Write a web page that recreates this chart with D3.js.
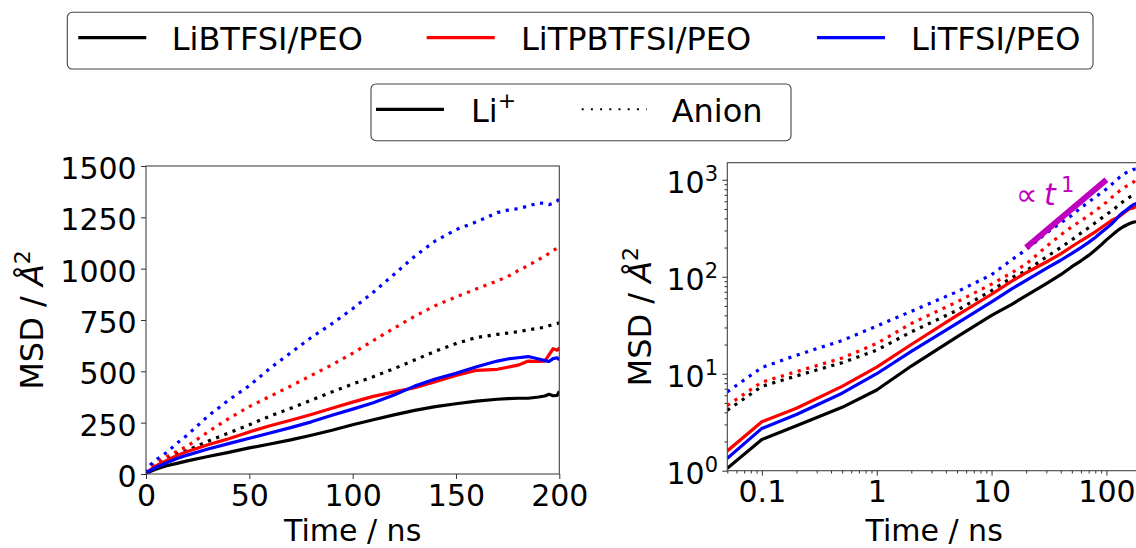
<!DOCTYPE html>
<html><head><meta charset="utf-8">
<script src="https://cdn.jsdelivr.net/npm/d3@7"></script>
<style>body{margin:0;background:#fff} text{font-family:"DejaVu Sans",sans-serif}</style>
</head><body><svg id="c" width="1136" height="548"></svg>
<script>
// ---------- data ----------
const time = [0.05,0.1,0.2,0.5,1,2,5,10,15,20,30,40,50,60,70,80,90,100,110,120,130,140,150,160,170,175,180,185,190,193,195,197,199,200];
const liBTFSI_Li    = [1.06,2.1,2.9,4.5,6.8,12,24,40,52,64,85,105,127,146,166,189,213,240,264,288,310,328,342,355,364,367,369,369,375,380,388,381,383,403];
const liTPBTFSI_Li  = [1.6,3.2,4.4,7.4,11.7,20,40,66,90,110,142,172,205,235,262,290,320,350,378,400,420,450,480,505,510,520,530,550,548,550,580,610,603,615];
const liTFSI_Li     = [1.34,2.73,3.8,6.3,10,17,33,55,75,92,122,148,174,200,226,254,286,316,347,385,428,463,490,522,550,560,566,572,560,552,548,562,566,556];
const liBTFSI_anion   = [4.2,7.4,9.5,13,17.5,27,45,72,98,115,160,200,240,282,320,360,400,438,474,513,555,598,635,665,680,686,693,702,710,715,722,728,733,737];
const liTPBTFSI_anion = [4.7,8.2,10.5,14.5,20.5,33,55,84,110,135,205,270,328,378,428,480,532,588,650,710,768,820,862,902,940,962,990,1015,1045,1060,1075,1088,1100,1104];
const liTFSI_anion    = [6.5,11.6,15.5,22,31,44,70,105,150,190,282,360,430,515,590,665,732,805,885,972,1060,1135,1190,1228,1273,1285,1292,1305,1320,1318,1312,1318,1330,1342];
const systems = ["LiBTFSI/PEO","LiTPBTFSI/PEO","LiTFSI/PEO"];
const species = ["Li","Anion"];
const xTicksLin = [0,50,100,150,200];
const yTicksLin = [0,250,500,750,1000,1250,1500];
const xTicksLog = [0.1,1,10,100];
const xTickLabelsLog = ["0.1","1","10","100"];
const yTicksLog = [1,10,100,1000];
const yTickExpLog = ["0","1","2","3"];
const guideT = [20,100];
const guideV = [200,1000];

// ---------- setup ----------
const svg = d3.select("#c");
const colors = {"LiBTFSI/PEO":"#000000","LiTPBTFSI/PEO":"#ff0000","LiTFSI/PEO":"#0000ff"};
const seriesList = [
  {sys:"LiBTFSI/PEO", sp:"Li", v:liBTFSI_Li},
  {sys:"LiBTFSI/PEO", sp:"Anion", v:liBTFSI_anion},
  {sys:"LiTPBTFSI/PEO", sp:"Li", v:liTPBTFSI_Li},
  {sys:"LiTPBTFSI/PEO", sp:"Anion", v:liTPBTFSI_anion},
  {sys:"LiTFSI/PEO", sp:"Li", v:liTFSI_Li},
  {sys:"LiTFSI/PEO", sp:"Anion", v:liTFSI_anion}
];

const xL = d3.scaleLinear().domain([0,200]).range([146,559.3]);
const yL = d3.scaleLinear().domain([0,1500]).range([474,166]);
const xR = d3.scaleLog().domain([0.05,200]).range([727.3,1141]);
const yR = d3.scaleLog().domain([1,1500]).range([470.7,162.7]);

const defs = svg.append("defs");
defs.append("clipPath").attr("id","clipL").append("rect")
  .attr("x",xL.range()[0]).attr("y",yL.range()[1]).attr("width",xL.range()[1]-xL.range()[0]).attr("height",yL.range()[0]-yL.range()[1]);
defs.append("clipPath").attr("id","clipR").append("rect")
  .attr("x",xR.range()[0]).attr("y",yR.range()[1]).attr("width",xR.range()[1]-xR.range()[0]).attr("height",yR.range()[0]-yR.range()[1]);

function styleAxis(g){
  g.select(".domain").remove();
  g.selectAll(".tick line").attr("stroke","#333").attr("stroke-width",1);
  g.selectAll(".tick text").attr("font-size",30).attr("fill","#000").attr("font-family","DejaVu Sans");
}

function drawPanel(x, y, clipId){
  const gLines = svg.append("g").attr("clip-path",`url(#${clipId})`);
  const line = d3.line().x((d,i)=>x(time[i])).y(d=>y(d));
  seriesList.forEach(s=>{
    gLines.append("path").datum(s.v)
      .attr("d", line)
      .attr("fill","none")
      .attr("stroke", colors[s.sys])
      .attr("stroke-width", 3.2)
      .attr("stroke-linejoin","round")
      .attr("stroke-dasharray", s.sp==="Anion" ? "3.2 5.6" : null);
  });
  svg.append("rect")
    .attr("x",x.range()[0]).attr("y",y.range()[1])
    .attr("width",x.range()[1]-x.range()[0]).attr("height",y.range()[0]-y.range()[1])
    .attr("fill","none").attr("stroke","#444").attr("stroke-width",1.1);
}

// ---------- left panel ----------
drawPanel(xL, yL, "clipL");
const gxL = svg.append("g").attr("transform",`translate(0,${yL.range()[0]})`)
  .call(d3.axisBottom(xL).tickValues(xTicksLin).tickSize(5).tickPadding(5.2).tickFormat(d3.format("d")));
styleAxis(gxL);
const gyL = svg.append("g").attr("transform",`translate(${xL.range()[0]},0)`)
  .call(d3.axisLeft(yL).tickValues(yTicksLin).tickSize(5).tickPadding(4.3).tickFormat(d3.format("d")));
styleAxis(gyL);
gyL.selectAll(".tick text").attr("dy","0.42em");

// ---------- right panel ----------
drawPanel(xR, yR, "clipR");
const minorX = [];
[-2,-1,0,1,2].forEach(e=>{for(let k=2;k<=9;k++){const v=k*Math.pow(10,e); if(v>=0.05&&v<=200) minorX.push(v);} });
const minorY = [];
[0,1,2,3].forEach(e=>{for(let k=2;k<=9;k++){const v=k*Math.pow(10,e); if(v>=1&&v<=1500) minorY.push(v);} });

const gxRm = svg.append("g").attr("transform",`translate(0,${yR.range()[0]})`)
  .call(d3.axisBottom(xR).tickValues(minorX).tickSize(2.8).tickFormat(""));
styleAxis(gxRm);
const gxR = svg.append("g").attr("transform",`translate(0,${yR.range()[0]})`)
  .call(d3.axisBottom(xR).tickValues(xTicksLog).tickSize(5).tickPadding(5.2).tickFormat((d,i)=>xTickLabelsLog[i]));
styleAxis(gxR);
const gyRm = svg.append("g").attr("transform",`translate(${xR.range()[0]},0)`)
  .call(d3.axisLeft(yR).tickValues(minorY).tickSize(2.8).tickFormat(""));
styleAxis(gyRm);
const gyR = svg.append("g").attr("transform",`translate(${xR.range()[0]},0)`)
  .call(d3.axisLeft(yR).tickValues(yTicksLog).tickSize(5).tickPadding(4.3).tickFormat(""));
styleAxis(gyR);
gyR.selectAll(".tick text").each(function(d,i){
  const t = d3.select(this);
  t.text("10").attr("dy","0.42em");
  t.append("tspan").attr("font-size",21).attr("dy",-12).text(yTickExpLog[i]);
});

// guide line ∝ t^1
svg.append("path").datum(guideT.map((t,i)=>[t,guideV[i]]))
  .attr("d", d3.line().x(d=>xR(d[0])).y(d=>yR(d[1])))
  .attr("stroke","#bf00bf").attr("stroke-width",6).attr("fill","none");
const gt = svg.append("text").attr("x",1016).attr("y",205).attr("font-size",30).attr("fill","#bf00bf");
gt.append("tspan").text("\u221D");
gt.append("tspan").attr("x",1044).attr("font-style","italic").text("t");
gt.append("tspan").attr("x",1061).attr("dy",-13).attr("font-size",21).text("1");

// axis titles
function yTitle(xb, yc){
  const t = svg.append("text").attr("transform",`translate(${xb},${yc}) rotate(-90)`)
    .attr("text-anchor","middle").attr("font-size",32).attr("fill","#000");
  t.append("tspan").text("MSD / ");
  t.append("tspan").attr("font-style","italic").text("\u00C5");
  t.append("tspan").attr("font-size",22).attr("dy",-13).text("2");
}
yTitle(43, (yL.range()[0]+yL.range()[1])/2);
yTitle(651, (yR.range()[0]+yR.range()[1])/2);
svg.append("text").attr("x",(xL.range()[0]+xL.range()[1])/2).attr("y",540.5)
  .attr("text-anchor","middle").attr("font-size",30).text("Time / ns");
svg.append("text").attr("x",(xR.range()[0]+xR.range()[1])/2).attr("y",540.5)
  .attr("text-anchor","middle").attr("font-size",30).text("Time / ns");

// ---------- legends ----------
const lg1 = svg.append("g");
lg1.append("rect").attr("x",67.3).attr("y",12.3).attr("width",1025.7).attr("height",56.7)
  .attr("rx",5).attr("fill","#fff").attr("stroke","#444").attr("stroke-width",1.1);
const lg1pos = [{lx:78.3,tx:171.7},{lx:426.7,tx:521},{lx:817,tx:911}];
systems.forEach((s,i)=>{
  lg1.append("line").attr("x1",lg1pos[i].lx).attr("x2",lg1pos[i].lx+68).attr("y1",37.7).attr("y2",37.7)
    .attr("stroke",colors[s]).attr("stroke-width",3.2);
  lg1.append("text").attr("x",lg1pos[i].tx).attr("y",50).attr("font-size",32).text(s);
});
const lg2 = svg.append("g");
lg2.append("rect").attr("x",371).attr("y",84).attr("width",420).attr("height",56.7)
  .attr("rx",5).attr("fill","#fff").attr("stroke","#444").attr("stroke-width",1.1);
const lg2pos = [{lx:376,tx:471},{lx:581.7,tx:671.7}];
species.forEach((sp,i)=>{
  lg2.append("line").attr("x1",lg2pos[i].lx).attr("x2",lg2pos[i].lx+(sp==="Li"?68:65)).attr("y1",109.3).attr("y2",109.3)
    .attr("stroke","#000").attr("stroke-width",sp==="Li"?3.2:2)
    .attr("stroke-dasharray", sp==="Anion" ? "2 7.2" : null);
  const t = lg2.append("text").attr("x",lg2pos[i].tx).attr("y",121.7).attr("font-size",32);
  if(sp==="Li"){
    t.append("tspan").text("Li");
    t.append("tspan").attr("font-size",22).attr("dy",-14).text("+");
  } else t.text("Anion");
});
</script>
</body></html>
